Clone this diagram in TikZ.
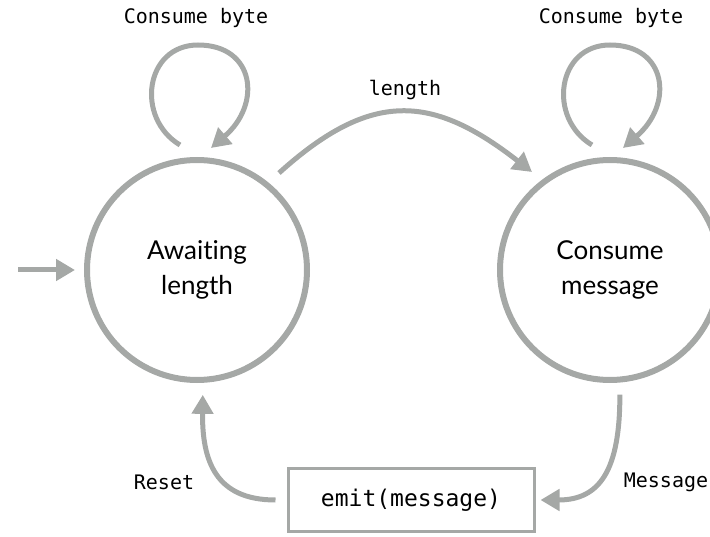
\documentclass[tikz,border=0pt]{standalone}
\usepackage{fontspec}
\setmainfont{Lato}[Ligatures=NoCommon]
\setmonofont{DejaVu Sans Mono}
\usetikzlibrary{arrows.meta}
\definecolor{lineg}{RGB}{165,168,166}
\begin{document}
\begin{tikzpicture}[x=1pt,y=-1pt,
  stateNode/.style={circle,draw=lineg,line width=6pt,minimum size=220pt,inner sep=0pt,align=center,font=\fontsize{26}{35}\selectfont},
  arr/.style={draw=lineg,line width=5pt,-{Triangle[length=19pt,width=21pt]}},
  lbl/.style={font=\fontsize{20}{24}\selectfont\ttfamily},
  boxNode/.style={draw=lineg,line width=3pt,minimum width=246pt,minimum height=63pt,font=\fontsize{23}{28}\selectfont\ttfamily}]
\useasboundingbox (0,0) rectangle (710,537);
\clip (0,0) rectangle (710,537);
\node[stateNode] (aw) at (197,270) {Awaiting\\length};
\node[stateNode] (cm) at (610,270) {Consume\\message};
\node[boxNode] (em) at (411,500) {emit(message)};
% labels
\node[lbl] (cb1) at (196,18) {Consume byte};
\node[lbl] (cb2) at (611,18) {Consume byte};
\node[lbl] (lenl) at (405,90) {length};
\node[lbl] (rstl) at (164,482) {Reset};
\node[lbl] (msgl) at (666,482) {Message};
% initial arrow
\coordinate (init) at (18,270);
\draw[arr,shorten >=9pt] (init) -- (aw.west);
% self loops
\coordinate (l1a) at (180,145);
\coordinate (l1b) at (211,148);
\draw[arr] (l1a) .. controls (135,118) and (145,45) .. (198,45)
  .. controls (255,45) and (262,104) .. (l1b);
\coordinate (l2a) at (592,145);
\coordinate (l2b) at (623,148);
\draw[arr] (l2a) .. controls (547,118) and (557,45) .. (610,45)
  .. controls (667,45) and (674,104) .. (l2b);
% length
\coordinate (ls) at (279,173);
\coordinate (le) at (532,172);
\draw[arr] (ls) .. controls (372,89) and (433,95) .. (le);
% message
\draw[arr,shorten <=12pt,shorten >=5pt] (cm.-85) .. controls (620,470) and (600,500) .. (em.east);
% reset
\draw[arr,shorten <=11pt,shorten >=12pt] (em.west) .. controls (215,500) and (202,460) .. (aw.-87);
\end{tikzpicture}
\end{document}
